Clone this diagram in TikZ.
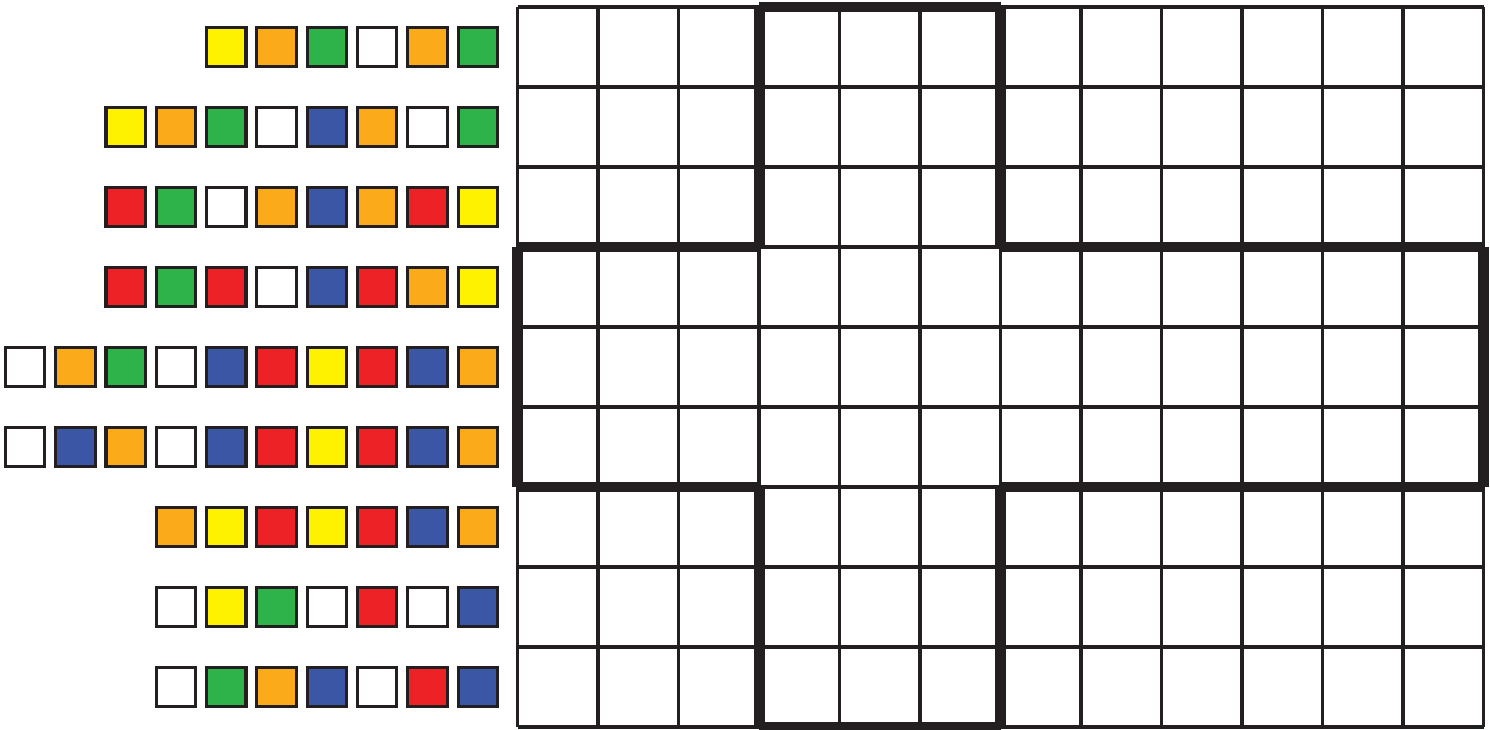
\documentclass[tikz,border=0pt]{standalone}
\usepackage{tikz}
\definecolor{inkblack}{HTML}{231F20}
\definecolor{tileyellow}{HTML}{FFF200}
\definecolor{tileorange}{HTML}{FBAA19}
\definecolor{tilegreen}{HTML}{2EB34A}
\definecolor{tileblue}{HTML}{3A56A5}
\definecolor{tilered}{HTML}{ED2227}
\tikzset{
    tile/.style={rectangle,draw=inkblack,line width=1.1pt,minimum size=4.925mm,inner sep=0pt},
    thingrid/.style={draw=inkblack,line width=1.15pt},
    crossline/.style={draw=inkblack,line width=3.9pt,line cap=butt}
}

\begin{document}
\begin{tikzpicture}
\useasboundingbox (0,0) rectangle (18.625,9.1125);
% colour rows, right-aligned next to the board
\foreach \r/\n/\seq in {
    1/6/{tileyellow,tileorange,tilegreen,white,tileorange,tilegreen},
    2/8/{tileyellow,tileorange,tilegreen,white,tileblue,tileorange,white,tilegreen},
    3/8/{tilered,tilegreen,white,tileorange,tileblue,tileorange,tilered,tileyellow},
    4/8/{tilered,tilegreen,tilered,white,tileblue,tilered,tileorange,tileyellow},
    5/10/{white,tileorange,tilegreen,white,tileblue,tilered,tileyellow,tilered,tileblue,tileorange},
    6/10/{white,tileblue,tileorange,white,tileblue,tilered,tileyellow,tilered,tileblue,tileorange},
    7/7/{tileorange,tileyellow,tilered,tileyellow,tilered,tileblue,tileorange},
    8/7/{white,tileyellow,tilegreen,white,tilered,white,tileblue},
    9/7/{white,tilegreen,tileorange,tileblue,white,tilered,tileblue}}{
    \foreach \c [count=\k] in \seq{
        \node[tile,fill=\c] (t\r-\k) at ({5.9725-(\n-\k)*0.62875},{9.525-\r}) {};
    }
}
% board with the cross outline
\begin{scope}[shift={(6.469,0.025)},x=1.00625cm]
\draw[thingrid,step=1] (0,0) grid (12,9);
\draw[crossline] (3,9) -- (6,9) (6,9) -- (6,6) (6,6) -- (12,6) (12,6) -- (12,3)
    (12,3) -- (6,3) (6,3) -- (6,0) (6,0) -- (3,0) (3,0) -- (3,3)
    (3,3) -- (0,3) (0,3) -- (0,6) (0,6) -- (3,6) (3,6) -- (3,9);
\end{scope}
\end{tikzpicture}
\end{document}
